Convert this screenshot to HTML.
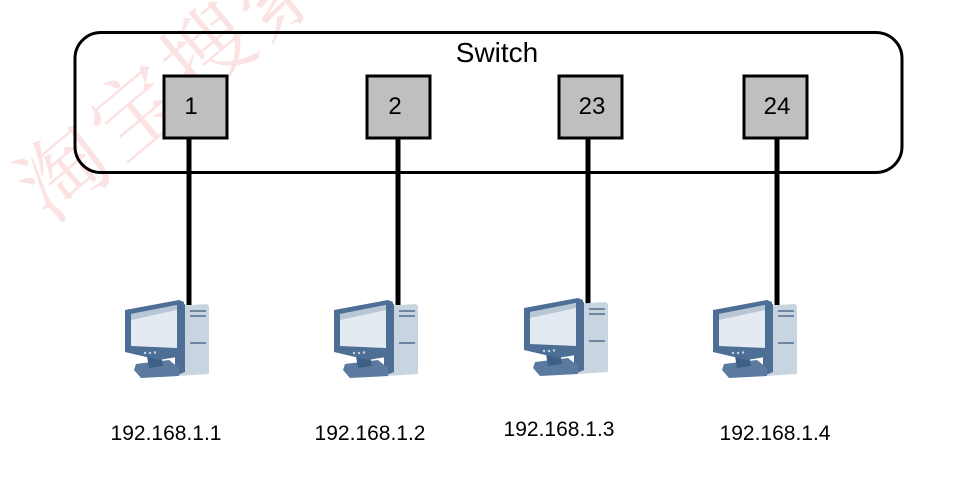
<!DOCTYPE html>
<html><head><meta charset="utf-8"><style>
html,body{margin:0;padding:0;background:#fff;width:970px;height:490px;overflow:hidden}
svg{display:block}
</style></head><body>
<svg width="970" height="490" viewBox="0 0 970 490" xmlns="http://www.w3.org/2000/svg">
<defs>
<g id="pc">
  <polygon points="-14,8 18,6 20,8 20,76 -12,78 -14,76" fill="#c9d4e1"/>
  <polygon points="-14,8 -4,6 -4,74 -14,78" fill="#4f6e93"/>
  <rect x="1" y="12" width="16" height="2" fill="#6f86a3"/>
  <rect x="1" y="17" width="16" height="2" fill="#6f86a3"/>
  <rect x="1" y="44" width="16" height="2" fill="#6f86a3"/>
  <polygon points="-53,66 -20,62 -10,70 -10,78 -48,80 -55,72" fill="#5a7aa0"/>
  <polygon points="-42,58 -28,57 -26,68 -40,70" fill="#3e5f86"/>
  <polygon points="-64,12 -10,2 -5,4 -6,58 -30,62 -64,54" fill="#4d6f96"/>
  <polygon points="-58,16 -12,7 -12,50 -58,48" fill="#e4eaf1"/>
  <polygon points="-58,16 -12,7 -12,12 -58,22" fill="#b8c6d6"/>
  <circle cx="-44" cy="55" r="1.2" fill="#c9d4e1"/>
  <circle cx="-39" cy="55" r="1.2" fill="#c9d4e1"/>
  <circle cx="-34" cy="54.5" r="1.2" fill="#c9d4e1"/>
</g>
</defs>
<text x="0" y="0" transform="translate(50,225) rotate(-40)" font-family="'Noto Serif CJK SC','Noto Sans CJK SC',serif" font-size="88" fill="#f08080" fill-opacity="0.22" letter-spacing="6">淘宝搜索</text>
<rect x="75" y="32.5" width="827" height="140" rx="26" ry="26" fill="none" stroke="#000" stroke-width="3"/>
<text x="497" y="62" text-anchor="middle" font-family="'Liberation Sans',sans-serif" font-size="28" fill="#000">Switch</text>
<g stroke="#000" stroke-width="5">
<line x1="189" y1="138" x2="189" y2="305"/>
<line x1="398" y1="138" x2="398" y2="305"/>
<line x1="588" y1="138" x2="588" y2="305"/>
<line x1="777" y1="138" x2="777" y2="305"/>
</g>
<g fill="#bfbfbf" stroke="#000" stroke-width="3">
<rect x="164" y="76" width="63" height="62"/>
<rect x="367" y="76" width="63" height="62"/>
<rect x="559" y="76" width="63" height="62"/>
<rect x="744" y="76" width="63" height="62"/>
</g>
<g font-family="'Liberation Sans',sans-serif" font-size="24" text-anchor="middle" fill="#000">
<text x="191" y="114">1</text>
<text x="395" y="114">2</text>
<text x="592" y="114">23</text>
<text x="777" y="114">24</text>
</g>
<use href="#pc" x="189" y="298"/>
<use href="#pc" x="398" y="298"/>
<use href="#pc" x="588" y="296"/>
<use href="#pc" x="777" y="298"/>
<g font-family="'Liberation Sans',sans-serif" font-size="21" text-anchor="middle" fill="#000">
<text x="166" y="440">192.168.1.1</text>
<text x="370" y="440">192.168.1.2</text>
<text x="559" y="436">192.168.1.3</text>
<text x="775" y="440">192.168.1.4</text>
</g>
</svg>
</body></html>
